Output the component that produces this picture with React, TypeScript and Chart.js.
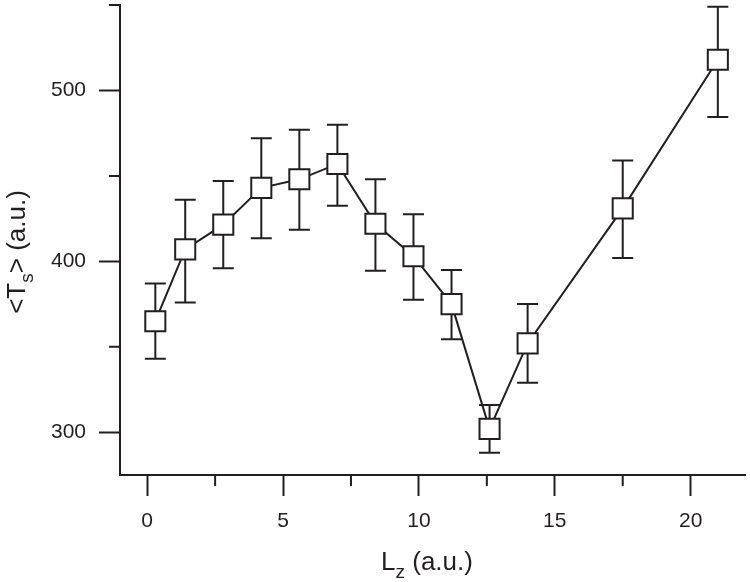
import React, { useEffect, useRef } from "react";
import { Chart, registerables } from "chart.js";

Chart.register(...registerables);

// ---- data ----
const lz = [0.3, 1.4, 2.8, 4.2, 5.6, 7.0, 8.4, 9.8, 11.2, 12.6, 14.0, 17.5, 21.0];
const ts = [365, 407, 421.5, 443, 448, 457, 422, 403, 375, 302, 352, 431, 518];
const tsHigh = [387, 436, 447, 472, 477, 480, 448, 427.5, 395, 316, 375, 459, 549];
const tsLow = [343, 376, 396, 413.5, 418.5, 432.5, 394.5, 377.5, 354.5, 288, 329, 402, 484.5];

const xTicks = [0, 5, 10, 15, 20];
const xMinorTicks = [2.5, 7.5, 12.5, 17.5];
const yTicks = [300, 400, 500];
const yMinorTicks = [350, 450, 550];

const xTitleMain = "L";
const xTitleSub = "z";
const xTitleRest = " (a.u.)";
const yTitleMain = "<T";
const yTitleSub = "s";
const yTitleRest = "> (a.u.)";

const INK = "#231f20";
const FONT = '"Liberation Sans", Arial, Helvetica, sans-serif';

function drawSubText(
  ctx: CanvasRenderingContext2D,
  main: string,
  sub: string,
  rest: string,
  x: number,
  y: number
) {
  const mainFont = `26px ${FONT}`;
  const subFont = `19px ${FONT}`;
  ctx.font = mainFont;
  const w1 = ctx.measureText(main).width;
  const w3 = ctx.measureText(rest).width;
  ctx.font = subFont;
  const w2 = ctx.measureText(sub).width;
  const total = w1 + w2 + w3;
  let cx = x - total / 2;
  ctx.textAlign = "left";
  ctx.textBaseline = "alphabetic";
  ctx.font = mainFont;
  ctx.fillText(main, cx, y);
  cx += w1;
  ctx.font = subFont;
  ctx.fillText(sub, cx, y + 8);
  cx += w2;
  ctx.font = mainFont;
  ctx.fillText(rest, cx, y);
}

const customPlugin = {
  id: "customDecor",
  beforeDatasetsDraw(chart: any) {
    const { ctx } = chart;
    const xs = chart.scales.x;
    const ys = chart.scales.y;
    ctx.save();
    ctx.strokeStyle = INK;
    ctx.lineWidth = 2;
    for (let i = 0; i < lz.length; i++) {
      const px = xs.getPixelForValue(lz[i]);
      const ph = ys.getPixelForValue(tsHigh[i]);
      const pl = ys.getPixelForValue(tsLow[i]);
      ctx.beginPath();
      ctx.moveTo(px, ph);
      ctx.lineTo(px, pl);
      ctx.moveTo(px - 10.5, ph);
      ctx.lineTo(px + 10.5, ph);
      ctx.moveTo(px - 10.5, pl);
      ctx.lineTo(px + 10.5, pl);
      ctx.stroke();
    }
    ctx.restore();
  },
  afterDraw(chart: any) {
    const { ctx, chartArea } = chart;
    const xs = chart.scales.x;
    const ys = chart.scales.y;
    ctx.save();
    ctx.strokeStyle = INK;
    ctx.lineWidth = 2;
    ctx.beginPath();
    for (const v of xMinorTicks) {
      const px = xs.getPixelForValue(v);
      ctx.moveTo(px, chartArea.bottom);
      ctx.lineTo(px, chartArea.bottom + 11);
    }
    for (const v of yMinorTicks) {
      const py = ys.getPixelForValue(v);
      ctx.moveTo(chartArea.left, py);
      ctx.lineTo(chartArea.left - 11, py);
    }
    ctx.stroke();

    ctx.fillStyle = INK;
    // x title
    drawSubText(ctx, xTitleMain, xTitleSub, xTitleRest, 427, 570);
    // y title (rotated)
    ctx.save();
    ctx.translate(25, 252);
    ctx.rotate(-Math.PI / 2);
    drawSubText(ctx, yTitleMain, yTitleSub, yTitleRest, 0, 0);
    ctx.restore();
    ctx.restore();
  },
};

export default function App() {
  const canvasRef = useRef<HTMLCanvasElement | null>(null);

  useEffect(() => {
    if (!canvasRef.current) return;
    const chart = new Chart(canvasRef.current, {
      type: "line",
      data: {
        datasets: [
          {
            data: lz.map((x, i) => ({ x, y: ts[i] })),
            borderColor: INK,
            borderWidth: 2,
            pointStyle: "rect",
            pointRadius: 14.2,
            pointBorderWidth: 2,
            pointBorderColor: INK,
            pointBackgroundColor: "#ffffff",
            fill: false,
            tension: 0,
            clip: false as any,
          },
        ],
      },
      options: {
        animation: false,
        responsive: false,
        events: [],
        layout: { autoPadding: false, padding: { top: 5, right: 5, left: 0, bottom: 0 } },
        plugins: {
          legend: { display: false },
          tooltip: { enabled: false },
        },
        scales: {
          x: {
            type: "linear",
            min: -1,
            max: 22,
            border: { display: true, color: INK, width: 2 },
            grid: {
              display: true,
              drawOnChartArea: false,
              drawTicks: true,
              tickLength: 21,
              tickWidth: 2,
              tickColor: INK,
            },
            ticks: {
              color: INK,
              font: { family: FONT, size: 21 },
              padding: 13,
              maxRotation: 0,
            },
            afterBuildTicks: (s: any) => {
              s.ticks = xTicks.map((v) => ({ value: v }));
            },
            afterFit: (s: any) => {
              s.height = 107;
              s.paddingLeft = 0;
              s.paddingRight = 0;
            },
          },
          y: {
            type: "linear",
            min: 275,
            max: 550,
            border: { display: true, color: INK, width: 2 },
            grid: {
              display: true,
              drawOnChartArea: false,
              drawTicks: true,
              tickLength: 21,
              tickWidth: 2,
              tickColor: INK,
            },
            ticks: {
              color: INK,
              font: { family: FONT, size: 21 },
              padding: 13,
            },
            afterBuildTicks: (s: any) => {
              s.ticks = yTicks.map((v) => ({ value: v }));
            },
            afterFit: (s: any) => {
              s.width = 120;
              s.paddingTop = 0;
              s.paddingBottom = 0;
            },
          },
        },
      },
      plugins: [customPlugin],
    });
    return () => chart.destroy();
  }, []);

  return (
    <div style={{ position: "absolute", left: 0, top: 0, width: 750, height: 582, background: "#fff" }}>
      <canvas ref={canvasRef} width={750} height={582} style={{ display: "block" }} />
    </div>
  );
}
